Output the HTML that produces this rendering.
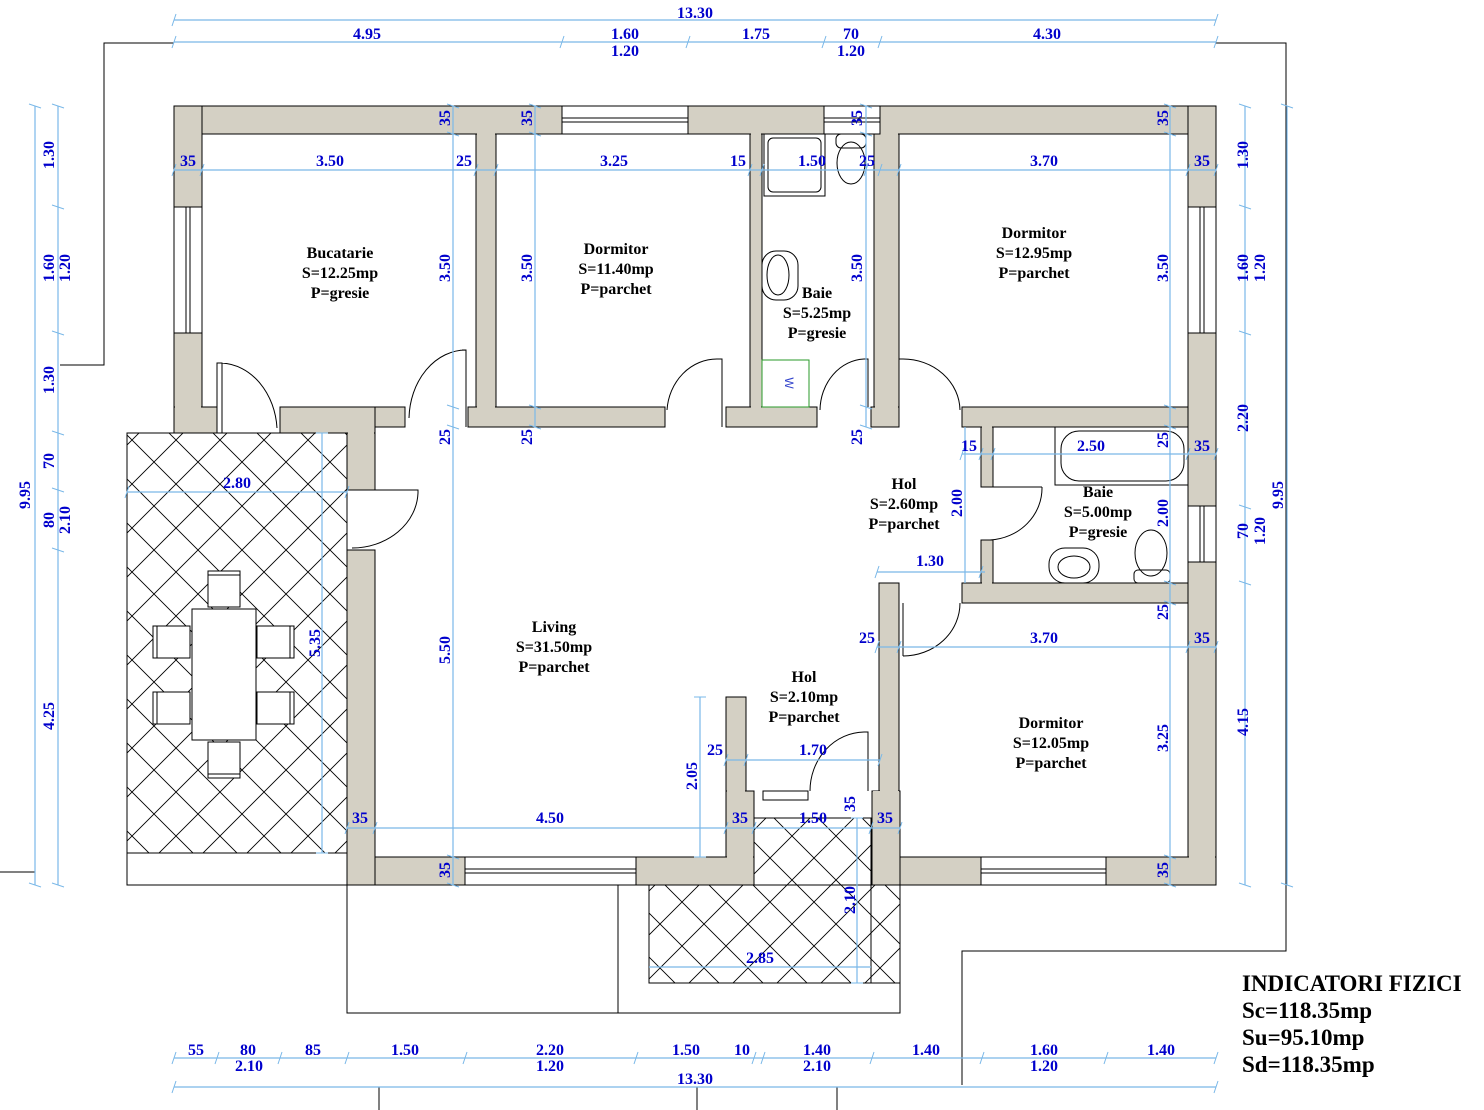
<!DOCTYPE html>
<html><head><meta charset="utf-8"><style>
html,body{margin:0;padding:0;background:#fff;}
svg{display:block;}
.w{fill:#d4d0c4;stroke:#000;stroke-width:1;}
.win{fill:#fff;stroke:#000;stroke-width:1;}
.l{stroke:#000;stroke-width:1;fill:none;}
.d{stroke:#7ab8e8;stroke-width:1.2;fill:none;}
.t{font-family:"Liberation Serif",serif;font-weight:bold;font-size:16px;fill:#0000cc;text-anchor:middle;}
.r{font-family:"Liberation Serif",serif;font-weight:bold;font-size:16px;fill:#000;text-anchor:middle;}
.ind{font-family:"Liberation Serif",serif;font-weight:bold;font-size:23px;fill:#000;}
</style></head><body>
<svg width="1484" height="1110" viewBox="0 0 1484 1110" xmlns="http://www.w3.org/2000/svg">
<defs>
<pattern id="h" width="44" height="44" patternUnits="userSpaceOnUse">
<path d="M0,0L44,44M44,0L0,44" stroke="#000" stroke-width="0.9"/>
</pattern>
</defs>

<path class="l" d="M174,43H104V365H60"/>
<path class="l" d="M1216,43H1286V951H962V1085"/>
<path class="l" d="M0,872H35"/>
<path class="l" d="M379,1087V1110M697,1087V1110M837,1087V1110"/>

<rect x="127" y="433" width="220" height="420" fill="url(#h)" stroke="#000"/>
<rect x="127" y="853" width="220" height="32" fill="#fff" stroke="#000"/>
<path class="l" d="M347,885V900"/>
<g fill="#fff" stroke="#000">
<rect x="192" y="609" width="64" height="131"/>
<rect x="208" y="571" width="32" height="36"/><path d="M208,575H240"/>
<rect x="208" y="742" width="32" height="36"/><path d="M208,774H240"/>
<rect x="153" y="626" width="37" height="32"/><path d="M157,626V658"/>
<rect x="153" y="692" width="37" height="32"/><path d="M157,692V724"/>
<rect x="257" y="626" width="37" height="32"/><path d="M290,626V658"/>
<rect x="257" y="692" width="37" height="32"/><path d="M290,692V724"/>
</g>

<rect x="347" y="885" width="553" height="128" fill="none" stroke="#000"/>
<path class="l" d="M618,885V1013"/>
<rect x="649" y="885" width="222" height="98" fill="url(#h)" stroke="#000"/>
<rect x="754" y="818" width="117" height="67" fill="url(#h)" stroke="none"/>
<path class="l" d="M754,818H871V983M871,885H900V983H871"/>
<rect x="871" y="885" width="29" height="98" fill="url(#h)" stroke="#000"/>

<g class="w">
<rect x="174" y="106" width="388" height="28"/>
<rect x="688" y="106" width="136" height="28"/>
<rect x="880" y="106" width="336" height="28"/>
<rect x="174" y="106" width="28" height="101"/>
<rect x="174" y="333" width="28" height="100"/>
<rect x="174" y="407" width="43" height="26"/>
<rect x="280" y="407" width="95" height="26"/>
<rect x="347" y="433" width="28" height="57"/>
<rect x="375" y="407" width="30" height="20"/>
<rect x="476" y="134" width="20" height="293"/>
<rect x="468" y="407" width="197" height="20"/>
<rect x="750" y="134" width="12" height="273"/>
<rect x="726" y="407" width="91" height="20"/>
<rect x="874" y="134" width="25" height="273"/>
<rect x="871" y="407" width="28" height="20"/>
<rect x="962" y="407" width="226" height="20"/>
<rect x="1188" y="106" width="28" height="101"/>
<rect x="1188" y="333" width="28" height="173"/>
<rect x="1188" y="562" width="28" height="323"/>
<rect x="981" y="427" width="12" height="60"/>
<rect x="981" y="540" width="12" height="43"/>
<rect x="962" y="583" width="226" height="20"/>
<rect x="879" y="583" width="20" height="208"/>
<rect x="872" y="791" width="28" height="94"/>
<rect x="900" y="857" width="81" height="28"/>
<rect x="1106" y="857" width="110" height="28"/>
<rect x="347" y="550" width="28" height="335"/>
<rect x="375" y="857" width="90" height="28"/>
<rect x="636" y="857" width="118" height="28"/>
<rect x="726" y="791" width="28" height="66"/>
<rect x="726" y="697" width="20" height="94"/>
</g>
<g fill="#d4d0c4">
<rect x="175" y="107" width="26" height="100"/>
<rect x="175" y="333.5" width="26" height="99"/>
<rect x="1189" y="107" width="26" height="100"/>
<rect x="1189" y="333.5" width="26" height="172"/>
<rect x="1189" y="562.5" width="26" height="322"/>
<rect x="175" y="407.5" width="41" height="25"/>
<rect x="281" y="407.5" width="93" height="25"/>
<rect x="348" y="430" width="26" height="59"/>
<rect x="477" y="133" width="18" height="293"/>
<rect x="751" y="133" width="10" height="293"/>
<rect x="875" y="133" width="23" height="293"/>
<rect x="880" y="584" width="18" height="208"/>
<rect x="873" y="791" width="26" height="93"/>
<rect x="348" y="551" width="26" height="333"/>
<rect x="727" y="698" width="18" height="158"/>
<rect x="727" y="792" width="26" height="92"/>
<rect x="982" y="426" width="10" height="60"/>
<rect x="982" y="541" width="10" height="43"/>
</g>

<g class="win">
<rect x="562" y="106" width="126" height="28"/><path d="M562,118H688M562,122H688"/>
<rect x="824" y="106" width="56" height="28"/><path d="M824,118H880M824,122H880"/>
<rect x="174" y="207" width="28" height="126"/><path d="M186,207V333M190,207V333"/>
<rect x="1188" y="207" width="28" height="126"/><path d="M1200,207V333M1204,207V333"/>
<rect x="1188" y="506" width="28" height="56"/><path d="M1200,506V562M1204,506V562"/>
<rect x="465" y="857" width="171" height="28"/><path d="M465,869H636M465,873H636"/>
<rect x="981" y="857" width="125" height="28"/><path d="M981,869H1106M981,873H1106"/>
<rect x="763" y="791" width="45" height="9"/>
</g>

<g class="l">
<path d="M217,433V363H222V433M222,363A58,70 0 0 1 277,428"/>
<path d="M466,427V350H462M466,350A57,70 0 0 0 409,418"/>
<path d="M722,427V359H717M717,359A50,55 0 0 0 667,410"/>
<path d="M868,407V359H864M864,359A46,52 0 0 0 820,410"/>
<path d="M899,427V359H903M903,359A57,52 0 0 1 960,410"/>
<path d="M985,487H1042M1042,487A55,52 0 0 1 990,540"/>
<path d="M903,603V656M960,603A57,53 0 0 1 903,656"/>
<path d="M868,791V732H864M864,732A55,59 0 0 0 810,791"/>
<path d="M350,490H418V493M418,493A66,57 0 0 1 352,548"/>
</g>

<g class="l" fill="none">
<rect x="764" y="134" width="61" height="62"/>
<rect x="768" y="138" width="53" height="54" rx="5"/>
<rect x="836" y="134" width="30" height="14" rx="5"/>
<ellipse cx="851" cy="163" rx="14" ry="21"/>
<rect x="762" y="251" width="36" height="49" rx="14"/>
<ellipse cx="778" cy="275" rx="11" ry="20"/>
<rect x="1055" y="427" width="133" height="58"/>
<rect x="1061" y="431" width="123" height="50" rx="18"/>
<rect x="1049" y="548" width="50" height="35" rx="16"/>
<ellipse cx="1074" cy="567" rx="16" ry="11"/>
<ellipse cx="1151" cy="553" rx="16" ry="23"/>
<rect x="1134" y="570" width="36" height="13" rx="4"/>
</g>
<rect x="762" y="360" width="47" height="47" fill="none" stroke="#2a9a2a"/>
<text x="785" y="383" font-family="Liberation Sans,sans-serif" font-size="12" fill="#3344cc" text-anchor="middle" transform="rotate(90 785 383)">W</text>

<g class="d">
<path d="M174,20H1216M174,42H1216M174,1058H1216M174,1087H1216"/>
<path d="M35,106V885M58,106V885M1245,106V885M1287,106V885"/>
<path d="M174,170H1216"/>
<path d="M453,106V885M535,106V427M866,106V427M1170,106V885"/>
<path d="M962,454H1216M965,427V583M877,572H985M877,647H1216"/>
<path d="M347,828H900M700,697V857M726,760H880M857,818V983M649,967H871"/>
<path d="M127,492H347M322,433V853"/>
</g>
<g stroke="#7ab8e8" stroke-width="1">
<path d="M172,26L176,14M172,48L176,36M560,48L564,36M686,48L690,36M822,48L826,36M878,48L882,36M1214,48L1218,36M1214,26L1218,14"/>
<path d="M172,1064L176,1052M215,1064L219,1052M278,1064L282,1052M345,1064L349,1052M463,1064L467,1052M634,1064L638,1052M752,1064L756,1052M761,1064L765,1052M870,1064L874,1052M980,1064L984,1052M1104,1064L1108,1052M1214,1064L1218,1052M172,1093L176,1081M1214,1093L1218,1081"/>
<path d="M29,104L41,108M29,883L41,887M52,104L64,108M52,205L64,209M52,331L64,335M52,431L64,435M52,488L64,492M52,548L64,552M52,883L64,887"/>
<path d="M1239,104L1251,108M1239,205L1251,209M1239,331L1251,335M1239,505L1251,509M1239,581L1251,585M1239,883L1251,887M1281,104L1293,108M1281,883L1293,887"/>
<path d="M447,104L459,108M447,132L459,136M447,405L459,409M447,425L459,429M447,855L459,859M447,883L459,887"/>
<path d="M529,104L541,108M529,132L541,136M529,405L541,409M529,425L541,429"/>
<path d="M860,104L872,108M860,132L872,136M860,405L872,409M860,425L872,429"/>
<path d="M1164,104L1176,108M1164,132L1176,136M1164,405L1176,409M1164,425L1176,429M1164,581L1176,585M1164,601L1176,605M1164,855L1176,859M1164,883L1176,887"/>
<path d="M172,176L176,164M200,176L204,164M474,176L478,164M494,176L498,164M748,176L752,164M760,176L764,164M864,176L868,164M878,176L882,164M897,176L901,164M1186,176L1190,164M1214,176L1218,164"/>
<path d="M345,834L349,822M373,834L377,822M724,834L728,822M752,834L756,822M869,834L873,822M898,834L902,822"/>
<path d="M724,766L728,754M744,766L748,754M878,766L882,754M694,697L706,697M694,857L706,857M851,818L863,818M851,983L863,983"/>
<path d="M125,498L129,486M345,498L349,486M316,433L328,433M316,853L328,853"/>
<path d="M960,460L964,448M979,460L983,448M991,460L995,448M1186,460L1190,448M1214,460L1218,448"/>
<path d="M875,653L879,641M897,653L901,641M1186,653L1190,641M1214,653L1218,641M875,578L879,566M979,578L983,566"/>
</g>

<g class="t">
<text x="695" y="18">13.30</text>
<text x="367" y="39">4.95</text><text x="625" y="39">1.60</text><text x="625" y="56">1.20</text>
<text x="756" y="39">1.75</text><text x="851" y="39">70</text><text x="851" y="56">1.20</text><text x="1047" y="39">4.30</text>
<text x="196" y="1055">55</text><text x="248" y="1055">80</text><text x="249" y="1071">2.10</text><text x="313" y="1055">85</text>
<text x="405" y="1055">1.50</text><text x="550" y="1055">2.20</text><text x="550" y="1071">1.20</text><text x="686" y="1055">1.50</text>
<text x="742" y="1055">10</text><text x="817" y="1055">1.40</text><text x="817" y="1071">2.10</text><text x="926" y="1055">1.40</text>
<text x="1044" y="1055">1.60</text><text x="1044" y="1071">1.20</text><text x="1161" y="1055">1.40</text>
<text x="695" y="1084">13.30</text>
<text x="188" y="166">35</text><text x="330" y="166">3.50</text><text x="464" y="166">25</text><text x="614" y="166">3.25</text>
<text x="738" y="166">15</text><text x="812" y="166">1.50</text><text x="867" y="166">25</text><text x="1044" y="166">3.70</text><text x="1202" y="166">35</text>
<text x="969" y="451">15</text><text x="1091" y="451">2.50</text><text x="1202" y="451">35</text>
<text x="930" y="566">1.30</text>
<text x="867" y="643">25</text><text x="1044" y="643">3.70</text><text x="1202" y="643">35</text>
<text x="360" y="823">35</text><text x="550" y="823">4.50</text><text x="740" y="823">35</text><text x="813" y="823">1.50</text><text x="885" y="823">35</text>
<text x="715" y="755">25</text><text x="813" y="755">1.70</text>
<text x="760" y="963">2.85</text>
<text x="237" y="488">2.80</text>
</g>
<g class="t">
<text transform="translate(30,495) rotate(-90)">9.95</text>
<text transform="translate(54,155) rotate(-90)">1.30</text>
<text transform="translate(54,268) rotate(-90)">1.60</text>
<text transform="translate(70,268) rotate(-90)">1.20</text>
<text transform="translate(54,380) rotate(-90)">1.30</text>
<text transform="translate(54,461) rotate(-90)">70</text>
<text transform="translate(54,520) rotate(-90)">80</text>
<text transform="translate(70,520) rotate(-90)">2.10</text>
<text transform="translate(54,716) rotate(-90)">4.25</text>
<text transform="translate(1248,155) rotate(-90)">1.30</text>
<text transform="translate(1248,268) rotate(-90)">1.60</text>
<text transform="translate(1265,268) rotate(-90)">1.20</text>
<text transform="translate(1248,418) rotate(-90)">2.20</text>
<text transform="translate(1248,531) rotate(-90)">70</text>
<text transform="translate(1265,531) rotate(-90)">1.20</text>
<text transform="translate(1248,722) rotate(-90)">4.15</text>
<text transform="translate(1283,495) rotate(-90)">9.95</text>
<text transform="translate(450,118) rotate(-90)">35</text>
<text transform="translate(450,268) rotate(-90)">3.50</text>
<text transform="translate(450,437) rotate(-90)">25</text>
<text transform="translate(450,650) rotate(-90)">5.50</text>
<text transform="translate(450,870) rotate(-90)">35</text>
<text transform="translate(532,118) rotate(-90)">35</text>
<text transform="translate(532,268) rotate(-90)">3.50</text>
<text transform="translate(532,437) rotate(-90)">25</text>
<text transform="translate(862,118) rotate(-90)">35</text>
<text transform="translate(862,268) rotate(-90)">3.50</text>
<text transform="translate(862,437) rotate(-90)">25</text>
<text transform="translate(1168,118) rotate(-90)">35</text>
<text transform="translate(1168,268) rotate(-90)">3.50</text>
<text transform="translate(1168,440) rotate(-90)">25</text>
<text transform="translate(1168,513) rotate(-90)">2.00</text>
<text transform="translate(1168,612) rotate(-90)">25</text>
<text transform="translate(1168,738) rotate(-90)">3.25</text>
<text transform="translate(1168,870) rotate(-90)">35</text>
<text transform="translate(962,503) rotate(-90)">2.00</text>
<text transform="translate(697,776) rotate(-90)">2.05</text>
<text transform="translate(855,804) rotate(-90)">35</text>
<text transform="translate(855,900) rotate(-90)">2.10</text>
<text transform="translate(320,643) rotate(-90)">5.35</text>
</g>

<g class="r">
<text x="340" y="258">Bucatarie</text><text x="340" y="278">S=12.25mp</text><text x="340" y="298">P=gresie</text>
<text x="616" y="254">Dormitor</text><text x="616" y="274">S=11.40mp</text><text x="616" y="294">P=parchet</text>
<text x="817" y="298">Baie</text><text x="817" y="318">S=5.25mp</text><text x="817" y="338">P=gresie</text>
<text x="1034" y="238">Dormitor</text><text x="1034" y="258">S=12.95mp</text><text x="1034" y="278">P=parchet</text>
<text x="904" y="489">Hol</text><text x="904" y="509">S=2.60mp</text><text x="904" y="529">P=parchet</text>
<text x="1098" y="497">Baie</text><text x="1098" y="517">S=5.00mp</text><text x="1098" y="537">P=gresie</text>
<text x="554" y="632">Living</text><text x="554" y="652">S=31.50mp</text><text x="554" y="672">P=parchet</text>
<text x="804" y="682">Hol</text><text x="804" y="702">S=2.10mp</text><text x="804" y="722">P=parchet</text>
<text x="1051" y="728">Dormitor</text><text x="1051" y="748">S=12.05mp</text><text x="1051" y="768">P=parchet</text>
</g>

<text class="ind" x="1242" y="991" font-size="22">INDICATORI FIZICI</text>
<text class="ind" x="1242" y="1018">Sc=118.35mp</text>
<text class="ind" x="1242" y="1045">Su=95.10mp</text>
<text class="ind" x="1242" y="1072">Sd=118.35mp</text>
</svg>
</body></html>
